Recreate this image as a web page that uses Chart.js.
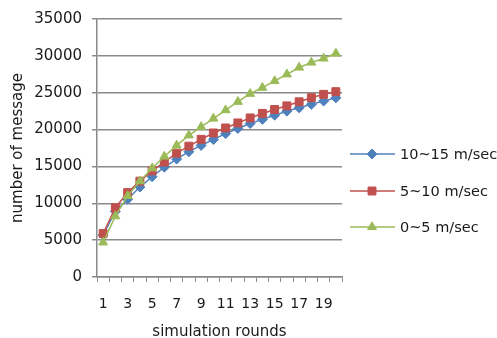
<!DOCTYPE html>
<html>
<head>
<meta charset="utf-8">
<script src="https://cdn.jsdelivr.net/npm/chart.js@4/dist/chart.umd.min.js"></script>
<style>
  html, body { margin: 0; padding: 0; background: #ffffff; }
  #wrap { width: 497px; height: 338px; position: relative; }
</style>
</head>
<body>
<div id="wrap"><canvas id="c" width="497" height="338"></canvas></div>
<script>
// Simulation rounds 1..20
const rounds = [1,2,3,4,5,6,7,8,9,10,11,12,13,14,15,16,17,18,19,20];

// Number of messages per round, by node speed band
const speed10to15 = [5700, 8900, 10550, 12200, 13600, 14900, 16000, 17000, 17850, 18650,
                     19450, 20150, 20820, 21380, 21950, 22500, 22950, 23420, 23870, 24300];
const speed5to10  = [5900, 9400, 11450, 13000, 14400, 15600, 16800, 17750, 18680, 19540,
                     20220, 20900, 21580, 22190, 22730, 23220, 23770, 24320, 24780, 25140];
const speed0to5   = [4700, 8250, 11000, 13000, 14750, 16350, 17850, 19220, 20360, 21500,
                     22640, 23780, 24860, 25680, 26590, 27500, 28420, 29100, 29650, 30330];

const seriesNames = ['10~15 m/sec', '5~10 m/sec', '0~5 m/sec'];
const yTicks = [0, 5000, 10000, 15000, 20000, 25000, 30000, 35000];

const FONT = '"DejaVu Sans", sans-serif';
const TXT = '#1a1a1a';
const GRID = '#8a8a8a';

// Legend with a short line and the series marker in its middle
const lineLegend = {
  id: 'lineLegend',
  afterDraw(chart) {
    const ctx = chart.ctx;
    const ys = [154, 191, 227];
    chart.data.datasets.forEach((ds, i) => {
      const y = ys[i];
      ctx.save();
      ctx.strokeStyle = ds.borderColor;
      ctx.lineWidth = 1.5;
      ctx.beginPath();
      ctx.moveTo(350, y);
      ctx.lineTo(395, y);
      ctx.stroke();
      ctx.fillStyle = ds.pointBackgroundColor;
      ctx.strokeStyle = ds.pointBorderColor;
      ctx.lineWidth = 1;
      Chart.helpers.drawPoint(ctx, {
        pointStyle: ds.pointStyle, radius: ds.pointRadius, borderWidth: 1
      }, 372, y);
      ctx.fillStyle = TXT;
      ctx.font = '14.5px ' + FONT;
      ctx.textBaseline = 'middle';
      ctx.textAlign = 'left';
      ctx.fillText(ds.label, 400, y + 1);
      ctx.restore();
    });
  }
};

function series(label, data, color, style, radius, order) {
  return {
    label, data, order,
    borderColor: color,
    backgroundColor: color,
    pointBackgroundColor: color,
    pointBorderColor: color,
    pointStyle: style,
    pointRadius: radius,
    pointHoverRadius: radius,
    pointBorderWidth: 1,
    borderWidth: 1.5,
    tension: 0,
    fill: false
  };
}

new Chart(document.getElementById('c'), {
  type: 'line',
  data: {
    labels: rounds,
    datasets: [
      series(seriesNames[0], speed10to15, '#4F81BD', 'rectRot', 5, 2),
      series(seriesNames[1], speed5to10,  '#C0504D', 'rect', 5.6, 1),
      series(seriesNames[2], speed0to5,   '#9BBB59', 'triangle', 5.2, 0)
    ]
  },
  options: {
    responsive: false,
    animation: false,
    devicePixelRatio: 1,
    layout: { padding: { left: 0, right: 155, top: 18, bottom: 0 } },
    plugins: {
      legend: { display: false },
      tooltip: { enabled: false }
    },
    scales: {
      x: {
        type: 'category',
        offset: true,
        grid: {
          offset: true,
          drawOnChartArea: false,
          drawTicks: true,
          tickLength: 5,
          color: GRID,
          lineWidth: 1
        },
        border: { display: true, color: GRID, width: 1.5 },
        ticks: {
          autoSkip: false,
          maxRotation: 0,
          color: TXT,
          font: { family: FONT, size: 14 },
          padding: 14,
          callback: function (v, i) { return i % 2 === 0 ? rounds[i] : ''; }
        },
        title: {
          display: true,
          text: 'simulation rounds',
          color: TXT,
          font: { family: FONT, size: 15 },
          padding: { top: 6, bottom: -3 }
        },
        afterFit(scale) { scale.height = 61; }
      },
      y: {
        min: 0,
        max: 35000,
        afterBuildTicks(scale) { scale.ticks = yTicks.map(v => ({ value: v })); },
        grid: {
          color: GRID,
          lineWidth: 1.5,
          drawTicks: true,
          tickLength: 5
        },
        border: { display: true, color: GRID, width: 1.5 },
        ticks: {
          color: TXT,
          font: { family: FONT, size: 15 },
          padding: 10,
          callback: v => String(v)
        },
        title: {
          display: true,
          text: 'number of message',
          color: TXT,
          font: { family: FONT, size: 15 },
          padding: { top: 9, bottom: 4 }
        },
        afterFit(scale) { scale.width = 97; }
      }
    }
  },
  plugins: [lineLegend]
});
</script>
</body>
</html>
